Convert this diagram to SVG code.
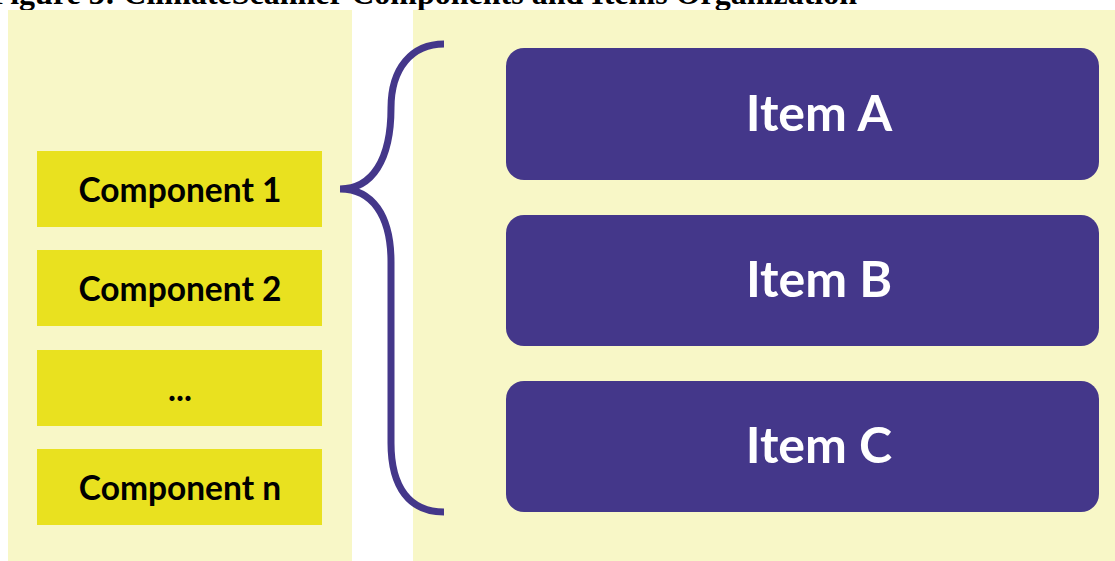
<svg xmlns="http://www.w3.org/2000/svg" width="1115" height="561" viewBox="0 0 1115 561">
<style>
.panel{fill:#F8F7C7}
.comp rect{fill:#E9E11F}
.comp text{font-family:Lato,"Open Sans",sans-serif;font-weight:bold;font-size:33.5px;fill:#000;text-anchor:middle}
.item rect{fill:#44378A}
.item text{font-family:Lato,"Open Sans",sans-serif;font-weight:bold;font-size:50px;fill:#fff;text-anchor:middle}
.title{font-family:"Liberation Serif",serif;font-weight:bold;font-size:32px;fill:#000;text-anchor:end}
</style>
<rect width="1115" height="561" fill="#fff"/>
<text class="title" x="857" y="4">Figure 3: ClimateScanner Components and Items Organization</text>
<rect id="panel-left" class="panel" x="8" y="10" width="344" height="551"/>
<rect id="panel-right" class="panel" x="413" y="10" width="702" height="551"/>
<g id="comp1" class="comp"><rect x="37" y="151" width="285" height="76"/><text x="180" y="202">Component 1</text></g>
<g id="comp2" class="comp"><rect x="37" y="250" width="285" height="76"/><text x="180" y="301">Component 2</text></g>
<g id="comp3" class="comp"><rect x="37" y="350" width="285" height="76"/><text x="180" y="401">...</text></g>
<g id="compn" class="comp"><rect x="37" y="449" width="285" height="76"/><text x="180" y="500">Component n</text></g>
<g id="itemA" class="item"><rect x="506" y="48" width="593" height="132" rx="18"/><text x="819" y="131">Item A</text></g>
<g id="itemB" class="item"><rect x="506" y="215" width="593" height="131" rx="18"/><text x="819" y="297">Item B</text></g>
<g id="itemC" class="item"><rect x="506" y="381" width="593" height="131" rx="18"/><text x="819" y="463">Item C</text></g>
<g id="connectors">
<path d="M444,44 C412,44 391,68 391,108 C391,160 372,189 340,189 C372,189 391,215 391,262 L391,443 C391,488 410,512 444,512" fill="none" stroke="#44378A" stroke-width="7"/>
</g>
</svg>
